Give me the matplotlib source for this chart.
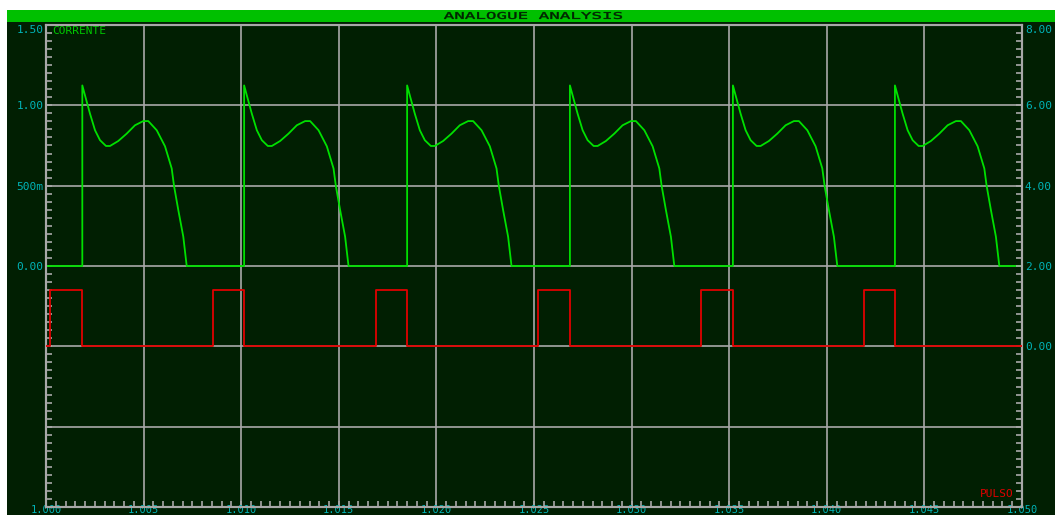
import numpy as np
import matplotlib
matplotlib.use("Agg")
import matplotlib.pyplot as plt
from matplotlib.patches import Rectangle, PathPatch
from matplotlib.textpath import TextPath
from matplotlib.font_manager import FontProperties
from matplotlib.transforms import Affine2D, IdentityTransform
from matplotlib.ticker import MultipleLocator, FixedLocator, FixedFormatter

# One cycle of CORRENTE: time after the spike (ms) and current (A)
cycle_ms = [0.0, 0.138, 0.394, 0.651, 0.907, 1.214, 1.419, 1.844, 2.275, 2.700,
            3.125, 3.381, 3.812, 4.237, 4.580, 4.698, 4.918, 5.174, 5.348]
cycle_a = [1.124, 1.062, 0.948, 0.845, 0.783, 0.747, 0.747, 0.778, 0.824, 0.876,
           0.902, 0.902, 0.845, 0.745, 0.607, 0.499, 0.348, 0.182, 0.0]

# spike instants (s)
spike_t = [1.00186, 1.01015, 1.01850, 1.02684, 1.03519, 1.04349]

# PULSO on/off instants (s) and level (V)
pulse_on = [1.00020, 1.00856, 1.01691, 1.02520, 1.03355, 1.04191]
pulse_off = [1.00186, 1.01015, 1.01850, 1.02684, 1.03519, 1.04349]
pulse_high = 1.4

t_start, t_end = 1.000, 1.050

# build traces
cur_t = [t_start]
cur_v = [0.0]
for ts in spike_t:
    cur_t.append(ts)
    cur_v.append(0.0)
    for dt, v in zip(cycle_ms, cycle_a):
        cur_t.append(ts + dt / 1000.0)
        cur_v.append(v)
cur_t.append(t_end)
cur_v.append(0.0)

pul_t = [t_start]
pul_v = [0.0]
for on, off in zip(pulse_on, pulse_off):
    pul_t += [on, on, off, off]
    pul_v += [0.0, pulse_high, pulse_high, 0.0]
pul_t.append(t_end)
pul_v.append(0.0)

W, H = 1055, 515
bg = "#011f02"
grid_c = "#a8a8a8"
lab_c = "#00b4b8"
green = "#00e000"
red = "#e00000"
mono = "DejaVu Sans Mono"

fig = plt.figure(figsize=(W / 100, H / 100), dpi=100, facecolor="white")

# background panel and title bar
fig.patches.append(Rectangle((7 / W, 0), 1 - 7 / W, 1 - 22 / H, transform=fig.transFigure,
                             facecolor=bg, edgecolor="none", zorder=-10))
fig.patches.append(Rectangle((7 / W, 1 - 22 / H), 1 - 7 / W, 12 / H, transform=fig.transFigure,
                             facecolor="#00c000", edgecolor="none", zorder=-10))

# wide title text, stretched to the box it fills in the reference (pixels)
tp = TextPath((0, 0), "ANALOGUE ANALYSIS", size=1, prop=FontProperties(family=mono))
ext = tp.get_extents()
tx0, tx1, ty0, ty1 = 444, 622, H - 19, H - 12
tr = (Affine2D().translate(-ext.x0, -ext.y0)
      .scale((tx1 - tx0) / ext.width, (ty1 - ty0) / ext.height)
      .translate(tx0, ty0))
fig.patches.append(PathPatch(tr.transform_path(tp), transform=IdentityTransform(),
                             facecolor="#002200", edgecolor="#002200", lw=0.3, zorder=-5))

left, right, top, bottom = 46, 1022, 25, 507
ax = fig.add_axes([left / W, 1 - bottom / H, (right - left) / W, (bottom - top) / H])
ax.set_facecolor("none")
ax.set_xlim(t_start, t_end)
ax.set_ylim(-1.5, 1.5)

ax.plot(cur_t, cur_v, color=green, lw=1.3, zorder=3)

# x axis
ax.xaxis.set_major_locator(MultipleLocator(0.005))
ax.xaxis.set_minor_locator(MultipleLocator(0.0005))
ax.xaxis.set_major_formatter(matplotlib.ticker.FormatStrFormatter("%.3f"))

# left y axis
ax.yaxis.set_major_locator(FixedLocator([-1.5, -1.0, -0.5, 0.0, 0.5, 1.0, 1.5]))
ax.yaxis.set_major_formatter(FixedFormatter(["", "", "", "0.00", "500m", "1.00", "1.50"]))
ax.yaxis.set_minor_locator(MultipleLocator(0.05))

ax.grid(True, which="major", color=grid_c, lw=1.2, zorder=1)
ax.tick_params(which="both", direction="in", colors=grid_c, labelcolor=lab_c,
               labelsize=8, top=False, right=False)
ax.tick_params(which="major", length=4, width=1.2)
ax.tick_params(which="minor", length=4, width=1.2)
ax.tick_params(axis="x", pad=-1.5, labelsize=7.5)
ax.tick_params(axis="y", pad=2)
for s in ax.spines.values():
    s.set_color(grid_c)
    s.set_linewidth(1.5)

for lab in ax.get_xticklabels() + ax.get_yticklabels():
    lab.set_family(mono)
xl = ax.get_xticklabels()
xl[0].set_ha("left")
xl[-1].set_ha("right")
ax.get_yticklabels()[-1].set_va("top")

# right y axis for PULSO
ax2 = ax.twinx()
ax2.set_ylim(-4, 8)
ax2.plot(pul_t, pul_v, color=red, lw=1.3, zorder=3)
ax2.yaxis.set_major_locator(FixedLocator([-4, -2, 0, 2, 4, 6, 8]))
ax2.yaxis.set_major_formatter(FixedFormatter(["", "", "0.00", "2.00", "4.00", "6.00", "8.00"]))
ax2.yaxis.set_minor_locator(MultipleLocator(0.2))
ax2.tick_params(which="both", direction="in", colors=grid_c, labelcolor=lab_c,
                labelsize=8, length=4, width=1.2, pad=2)
for s in ax2.spines.values():
    s.set_color(grid_c)
    s.set_linewidth(1.5)
for lab in ax2.get_yticklabels():
    lab.set_family(mono)
ax2.get_yticklabels()[-1].set_va("top")

ax.text(52 / W, 1 - 31 / H, "CORRENTE", transform=fig.transFigure, ha="left", va="center",
        fontsize=8, family=mono, color="#00c800")
ax.text(1014 / W, 1 - 494 / H, "PULSO", transform=fig.transFigure, ha="right", va="center",
        fontsize=8, family=mono, color=red)

fig.savefig("out.png", dpi=100, facecolor=fig.get_facecolor())
